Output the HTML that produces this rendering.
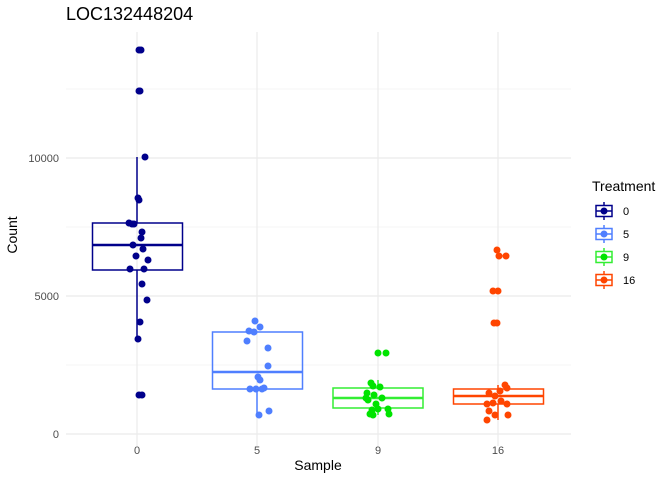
<!DOCTYPE html>
<html><head><meta charset="utf-8"><style>body{margin:0;background:#fff}svg{display:block;font-family:"Liberation Sans",sans-serif}</style></head><body>
<svg width="672" height="480" viewBox="0 0 672 480">
<rect width="672" height="480" fill="#fff"/>
<g stroke="#ebebeb" stroke-width="0.6">
<line x1="66" x2="571" y1="365" y2="365"/><line x1="66" x2="571" y1="227" y2="227"/><line x1="66" x2="571" y1="89" y2="89"/>
</g>
<g stroke="#ebebeb" stroke-width="1.2">
<line x1="66" x2="571" y1="434" y2="434"/><line x1="66" x2="571" y1="296" y2="296"/><line x1="66" x2="571" y1="158" y2="158"/>
<line x1="137" x2="137" y1="32" y2="446"/><line x1="257" x2="257" y1="32" y2="446"/><line x1="378" x2="378" y1="32" y2="446"/><line x1="498" x2="498" y1="32" y2="446"/>
</g>
<g fill="none" stroke-width="1.5">
<g stroke="#00008B"><line x1="137" x2="137" y1="157" y2="223"/><line x1="137" x2="137" y1="270" y2="339"/><rect x="92.5" y="223" width="90" height="47"/><line x1="92.5" x2="182.5" y1="245" y2="245" stroke-width="2.5"/></g>
<g stroke="#4F7FFF"><line x1="257" x2="257" y1="389" y2="415"/><rect x="212.5" y="332" width="90" height="57"/><line x1="212.5" x2="302.5" y1="372" y2="372" stroke-width="2.5"/></g>
<g stroke="#33EE33"><line x1="378" x2="378" y1="380" y2="388"/><line x1="378" x2="378" y1="408" y2="415"/><rect x="333" y="388" width="90" height="20"/><line x1="333" x2="423" y1="398" y2="398" stroke-width="2.5"/></g>
<g stroke="#FF4500"><line x1="498" x2="498" y1="385" y2="389"/><line x1="498" x2="498" y1="404" y2="420"/><rect x="453.5" y="389" width="90" height="15"/><line x1="453.5" x2="543.5" y1="396" y2="396" stroke-width="2.5"/></g>
</g>
<g fill="#00008B">
<circle cx="139" cy="50" r="3.5"/><circle cx="141" cy="50" r="3.5"/><circle cx="139" cy="91" r="3.5"/><circle cx="140" cy="91" r="3.5"/><circle cx="145" cy="157" r="3.5"/><circle cx="138" cy="198" r="3.5"/><circle cx="139" cy="200" r="3.5"/><circle cx="129" cy="223" r="3.5"/><circle cx="132" cy="224" r="3.5"/><circle cx="134" cy="224" r="3.5"/><circle cx="142" cy="232" r="3.5"/><circle cx="141" cy="238" r="3.5"/><circle cx="133" cy="245" r="3.5"/><circle cx="143" cy="249" r="3.5"/><circle cx="136" cy="256" r="3.5"/><circle cx="148" cy="260" r="3.5"/><circle cx="130" cy="269" r="3.5"/><circle cx="144" cy="269" r="3.5"/><circle cx="142" cy="284" r="3.5"/><circle cx="147" cy="300" r="3.5"/><circle cx="140" cy="322" r="3.5"/><circle cx="138" cy="339" r="3.5"/><circle cx="139" cy="395" r="3.5"/><circle cx="142" cy="395" r="3.5"/>
</g>
<g fill="#4F7FFF">
<circle cx="255" cy="321" r="3.5"/><circle cx="249" cy="331" r="3.5"/><circle cx="254" cy="332" r="3.5"/><circle cx="260" cy="327" r="3.5"/><circle cx="247" cy="341" r="3.5"/><circle cx="268" cy="348" r="3.5"/><circle cx="268" cy="366" r="3.5"/><circle cx="258" cy="377" r="3.5"/><circle cx="260" cy="380" r="3.5"/><circle cx="250" cy="389" r="3.5"/><circle cx="256" cy="389" r="3.5"/><circle cx="262" cy="389" r="3.5"/><circle cx="264" cy="388" r="3.5"/><circle cx="259" cy="415" r="3.5"/><circle cx="269" cy="411" r="3.5"/>
</g>
<g fill="#00E400">
<circle cx="378" cy="353" r="3.5"/><circle cx="386" cy="353" r="3.5"/><circle cx="371" cy="383" r="3.5"/><circle cx="373" cy="386" r="3.5"/><circle cx="380" cy="387" r="3.5"/><circle cx="367" cy="393" r="3.5"/><circle cx="374" cy="395" r="3.5"/><circle cx="382" cy="398" r="3.5"/><circle cx="368" cy="400" r="3.5"/><circle cx="376" cy="404" r="3.5"/><circle cx="372" cy="410" r="3.5"/><circle cx="378" cy="409" r="3.5"/><circle cx="388" cy="409" r="3.5"/><circle cx="370" cy="414" r="3.5"/><circle cx="373" cy="415" r="3.5"/><circle cx="389" cy="414" r="3.5"/><circle cx="366" cy="398" r="3.5"/>
</g>
<g fill="#FF4500">
<circle cx="497" cy="250" r="3.5"/><circle cx="499" cy="256" r="3.5"/><circle cx="506" cy="256" r="3.5"/><circle cx="493" cy="291" r="3.5"/><circle cx="498" cy="291" r="3.5"/><circle cx="494" cy="323" r="3.5"/><circle cx="497" cy="323" r="3.5"/><circle cx="505" cy="385" r="3.5"/><circle cx="507" cy="388" r="3.5"/><circle cx="489" cy="393" r="3.5"/><circle cx="495" cy="396" r="3.5"/><circle cx="500" cy="391" r="3.5"/><circle cx="487" cy="404" r="3.5"/><circle cx="493" cy="403" r="3.5"/><circle cx="501" cy="401" r="3.5"/><circle cx="507" cy="404" r="3.5"/><circle cx="489" cy="411" r="3.5"/><circle cx="495" cy="415" r="3.5"/><circle cx="508" cy="415" r="3.5"/><circle cx="487" cy="420" r="3.5"/>
</g>
<g font-size="11" fill="#4d4d4d" text-anchor="end">
<text x="59" y="438">0</text><text x="59" y="300">5000</text><text x="59" y="162">10000</text>
</g>
<g font-size="11" fill="#4d4d4d" text-anchor="middle">
<text x="137" y="454">0</text><text x="257" y="454">5</text><text x="378" y="454">9</text><text x="498" y="454">16</text>
</g>
<text x="318" y="470" font-size="14" text-anchor="middle" fill="#000">Sample</text>
<text transform="translate(17,235) rotate(-90)" font-size="14" text-anchor="middle" fill="#000">Count</text>
<text x="66" y="20" font-size="18" fill="#000">LOC132448204</text>
<text x="592" y="191" font-size="14" fill="#000">Treatment</text>
<g stroke-width="1.5" fill="none">
<g stroke="#00008B"><line x1="604" x2="604" y1="202" y2="220"/><rect x="596" y="205.5" width="16" height="11" fill="#fff"/><line x1="596" x2="612" y1="211" y2="211"/></g>
<g stroke="#4F7FFF"><line x1="604" x2="604" y1="225" y2="243"/><rect x="596" y="228.5" width="16" height="11" fill="#fff"/><line x1="596" x2="612" y1="234" y2="234"/></g>
<g stroke="#33EE33"><line x1="604" x2="604" y1="248" y2="266"/><rect x="596" y="251.5" width="16" height="11" fill="#fff"/><line x1="596" x2="612" y1="257" y2="257"/></g>
<g stroke="#FF4500"><line x1="604" x2="604" y1="271" y2="289"/><rect x="596" y="274.5" width="16" height="11" fill="#fff"/><line x1="596" x2="612" y1="280" y2="280"/></g>
</g>
<circle cx="604" cy="211" r="3.5" fill="#00008B"/><circle cx="604" cy="234" r="3.5" fill="#4F7FFF"/><circle cx="604" cy="257" r="3.5" fill="#00E400"/><circle cx="604" cy="280" r="3.5" fill="#FF4500"/>
<g font-size="11" fill="#000">
<text x="623" y="215">0</text><text x="623" y="238">5</text><text x="623" y="261">9</text><text x="623" y="284">16</text>
</g>
</svg>
</body></html>
